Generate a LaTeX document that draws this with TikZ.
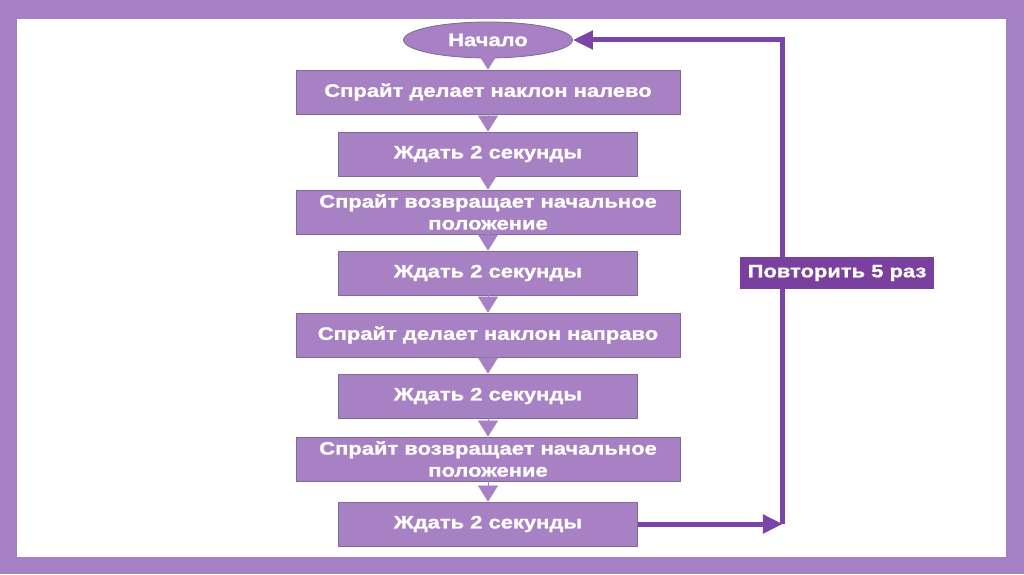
\documentclass[tikz,border=0pt]{standalone}
\usepackage{fontspec}
\setmainfont{Liberation Sans}
\newfontfamily\flowfont[FakeStretch=1.22, FakeBold=1.2]{Liberation Sans Bold}
\usetikzlibrary{shapes.geometric,arrows.meta}

\definecolor{framepurple}{HTML}{A680C4}
\definecolor{boxpurple}{HTML}{A880C4}
\definecolor{boxedge}{HTML}{7E6A92}
\definecolor{looppurple}{HTML}{7B45A8}
\definecolor{labelpurple}{HTML}{7A40A0}

\begin{document}
\begin{tikzpicture}[
  x=1pt, y=1pt,
  block/.style={rectangle, draw=boxedge, fill=boxpurple, line width=0.8pt, minimum height=44pt,
    text=white, font=\flowfont\fontsize{18}{22}\selectfont, align=center, inner sep=2pt},
  wide/.style={block, minimum width=384pt},
  narrow/.style={block, minimum width=299pt},
  flow/.style={draw=boxpurple, line width=0.4pt, -{Triangle[width=20pt,length=16pt,fill=boxpurple]}},
  loop/.style={draw=looppurple, line width=5pt, -{Triangle[width=18pt,length=20pt]}}
]
% frame
\fill[framepurple] (0,0) rectangle (1024,574);
\fill[white] (17,17) rectangle (1006,555);

\node[ellipse, draw=boxedge, fill=boxpurple, line width=0.8pt, minimum width=169pt, minimum height=36pt,
  inner sep=1pt, text=white, font=\flowfont\fontsize{18}{22}\selectfont] (start) at (488,534) {Начало};
\node[wide, below of=start, node distance=52pt] (tilt1) {Спрайт делает наклон налево};
\node[narrow, below of=tilt1, node distance=62pt] (w1) {Ждать 2 секунды};
\node[wide, below of=w1, node distance=58pt] (back1) {Спрайт возвращает начальное\\положение};
\node[narrow, below of=back1, node distance=61pt] (w2) {Ждать 2 секунды};
\node[wide, below of=w2, node distance=62pt] (tilt2) {Спрайт делает наклон направо};
\node[narrow, below of=tilt2, node distance=61pt] (w3) {Ждать 2 секунды};
\node[wide, below of=w3, node distance=63pt] (back2) {Спрайт возвращает начальное\\положение};
\node[narrow, below of=back2, node distance=65pt] (w4) {Ждать 2 секунды};

\draw[flow] (start) -- (tilt1);
\draw[flow] (tilt1) -- (w1);
\draw[flow] (w1) -- (back1);
\draw[flow] (back1) -- (w2);
\draw[flow] (w2) -- (tilt2);
\draw[flow] (tilt2) -- (w3);
\draw[flow] (w3) -- (back2);
\draw[flow] (back2) -- (w4);

% loop back
\path (w4.east) ++(145,0) coordinate (turn);
\draw[loop] (w4.east) -- (turn);
\draw[loop] (turn) |- (start.east);

\node[rectangle, fill=labelpurple, minimum width=194pt, minimum height=32pt, text=white,
  font=\flowfont\fontsize{18}{22}\selectfont] (repeat) at (837,301) {Повторить 5 раз};
\end{tikzpicture}
\end{document}
